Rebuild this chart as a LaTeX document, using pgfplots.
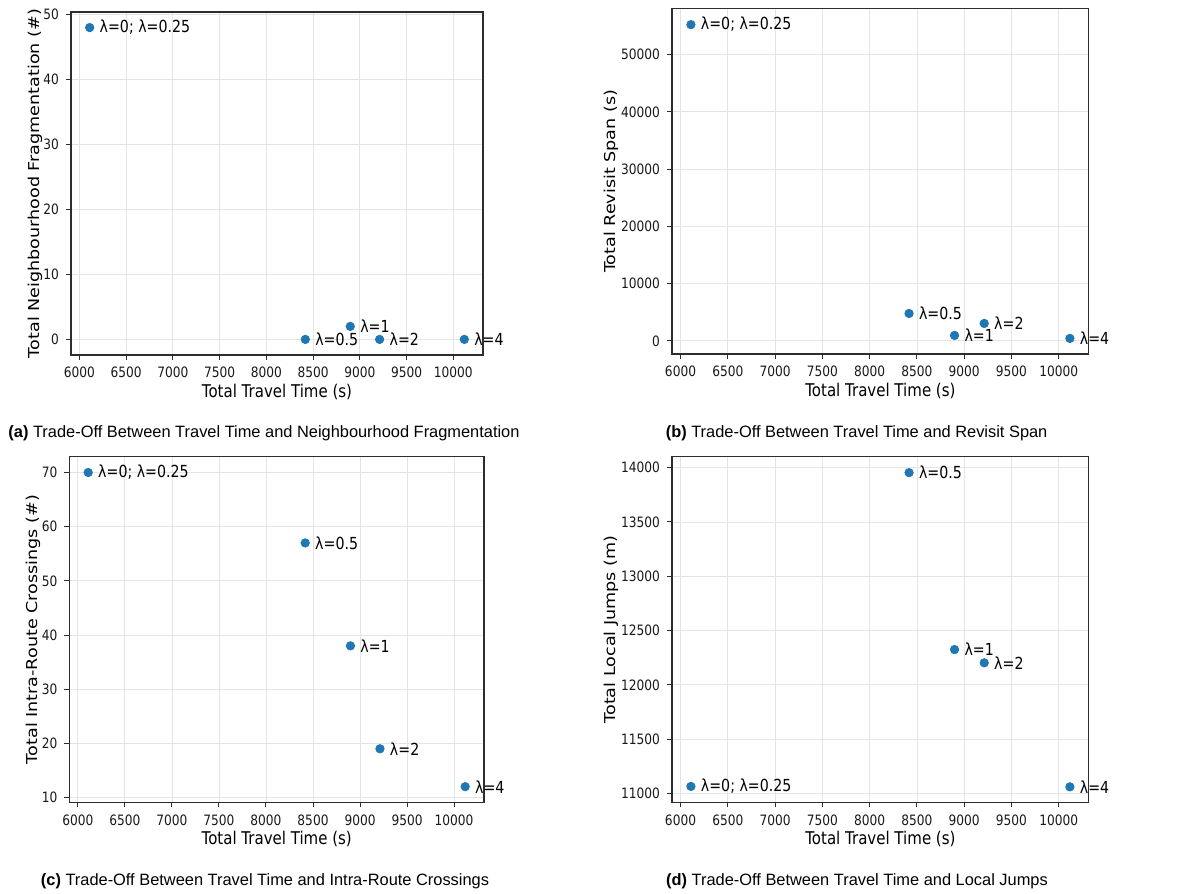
\documentclass[border=0pt]{standalone}
\usepackage{fontspec}
\setmainfont{DejaVu Sans}
\newfontfamily\capfont{Liberation Sans}
\usepackage{graphicx}
\usepackage{pgfplots}
\usepackage{pgfplotstable}
\pgfplotsset{compat=1.18}
\definecolor{tabblue}{RGB}{31,119,180}
\definecolor{gridgray}{RGB}{228,228,228}
\definecolor{spine}{RGB}{45,45,45}
\newcommand\vs[1]{\scalebox{1}[1.17]{#1}}
\newcommand\hs[1]{\scalebox{1.17}[1]{#1}}

\pgfplotstableread{
x y lab
6110 48 {λ=0\char59\ λ=0.25}
8417 0 {λ=0.5}
8898 2 {λ=1}
9212 0 {λ=2}
10118 0 {λ=4}
}\tabA
\pgfplotstableread{
x y lab
6110 55232 {λ=0\char59\ λ=0.25}
8417 4778 {λ=0.5}
8898 940 {λ=1}
9212 3035 {λ=2}
10118 420 {λ=4}
}\tabB
\pgfplotstableread{
x y lab
6110 70 {λ=0\char59\ λ=0.25}
8417 57 {λ=0.5}
8898 38 {λ=1}
9212 19 {λ=2}
10118 12 {λ=4}
}\tabC
\pgfplotstableread{
x y lab
6110 11065 {λ=0\char59\ λ=0.25}
8417 13954 {λ=0.5}
8898 12325 {λ=1}
9212 12203 {λ=2}
10118 11061 {λ=4}
}\tabD

\pgfplotsset{
  tradeoff/.style={
    scale only axis,
    anchor=south west,
    xmin=5910, xmax=10318,
    xtick={6000,6500,...,10000},
    grid=major,
    major grid style={line width=0.4pt, draw=gridgray},
    axis line style={spine, line width=0.6pt},
    tick align=outside, tick pos=left, major tick length=2.5pt,
    tick style={spine, line width=0.5pt},
    ticklabel style={font=\fontsize{6.1}{7}\selectfont, text=black!90},
    /pgf/number format/assume math mode=true,
    /pgf/number format/1000 sep={},
    /pgf/number format/fixed,
    scaled ticks=false,
    xticklabel={\vs{\pgfmathprintnumber{\tick}}},
    yticklabel={\vs{\pgfmathprintnumber{\tick}}},
    label style={font=\fontsize{7.5}{9}\selectfont},
    xlabel={\vs{Total Travel Time (s)}},
    xlabel style={at={(axis description cs:0.5,-0.107)}, anchor=center},
    nodes near coords={\vs{\pgfplotspointmeta}},
    point meta=explicit symbolic,
    every node near coord/.append style={anchor=west, inner sep=0pt, xshift=4.8pt,
      font=\fontsize{7.1}{8}\selectfont, text=black},
    clip=false,
  },
  pts/.style={only marks, mark=*, mark size=2.1pt, color=tabblue, mark options={draw=tabblue, fill=tabblue}},
}

\begin{document}
\begin{tikzpicture}
\path[use as bounding box] (0,0) rectangle (589pt,447pt);

\begin{axis}[tradeoff, at={(35.5pt,269.5pt)}, width=206pt, height=171.5pt,
  ymin=-2.4, ymax=50.4, ytick={0,10,...,50},
  ylabel={\hs{Total Neighbourhood Fragmentation (\#)}},
  ylabel style={at={(axis description cs:-0.087,0.5)}, anchor=center}]
\addplot[pts] table[x=x, y=y, meta=lab] {\tabA};
\end{axis}

\begin{axis}[tradeoff, at={(336pt,270pt)}, width=208.4pt, height=172.6pt,
  ymin=-2300, ymax=58000, ytick={0,10000,...,50000},
  ylabel={\hs{Total Revisit Span (s)}},
  ylabel style={at={(axis description cs:-0.145,0.5)}, anchor=center}]
\addplot[pts] table[x=x, y=y, meta=lab] {\tabB};
\end{axis}

\begin{axis}[tradeoff, at={(34.7pt,45.8pt)}, width=207.3pt, height=172.8pt,
  ymin=9.1, ymax=72.9, ytick={10,20,...,70},
  ylabel={\hs{Total Intra-Route Crossings (\#)}},
  ylabel style={at={(axis description cs:-0.087,0.5)}, anchor=center}]
\addplot[pts] table[x=x, y=y, meta=lab] {\tabC};
\end{axis}

\begin{axis}[tradeoff, at={(336pt,45.8pt)}, width=208.4pt, height=172.8pt,
  ymin=10918, ymax=14100, ytick={11000,11500,...,14000},
  ylabel={\hs{Total Local Jumps (m)}},
  ylabel style={at={(axis description cs:-0.145,0.5)}, anchor=center}]
\addplot[pts] table[x=x, y=y, meta=lab] {\tabD};
\end{axis}

\begin{scope}[every node/.style={font=\capfont\fontsize{8.2}{10}\selectfont, inner sep=0pt}]
\node at (132pt,230.5pt) {\textbf{(a)} Trade-Off Between Travel Time and Neighbourhood Fragmentation};
\node at (428.3pt,230.5pt) {\textbf{(b)} Trade-Off Between Travel Time and Revisit Span};
\node at (132.5pt,6.2pt) {\textbf{(c)} Trade-Off Between Travel Time and Intra-Route Crossings};
\node at (428.5pt,6.2pt) {\textbf{(d)} Trade-Off Between Travel Time and Local Jumps};
\end{scope}
\end{tikzpicture}
\end{document}
